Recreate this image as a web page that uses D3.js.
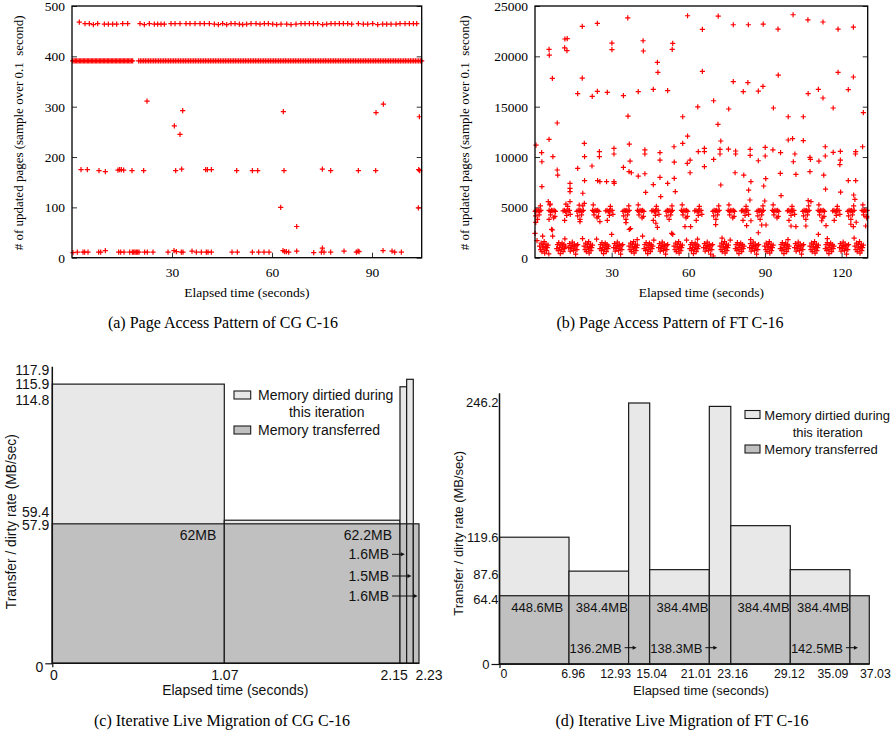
<!DOCTYPE html>
<html><head><meta charset="utf-8">
<script src="https://cdn.jsdelivr.net/npm/d3@7"></script>
<style>body{margin:0;background:#fff}svg{display:block}</style>
</head><body>
<svg id="chart" width="892" height="736"></svg>
<script>
// ---------------- (a) Page access pattern, CG C-16 ----------------
const cgTopLine = [[2.2,468],[3.9,465],[5.2,465],[6.4,463],[7.7,465],[9.7,464],[10.9,464],[12.2,464],[13.4,464],[15.2,465],[16.7,465],[20.4,465],[21.7,463],[23.2,465],[24.7,464],[25.7,464],[26.7,464],[27.7,464],[29.7,465],[30.9,465],[32.4,465],[34.2,465],[35.4,465],[36.9,465],[38.4,465],[39.7,465],[41.2,465],[42.7,464],[43.9,463],[45.2,465],[46.4,463],[47.7,465],[48.9,465],[50.2,464],[51.2,463],[52.4,464],[53.7,465],[55.2,465],[56.4,464],[57.7,465],[58.9,465],[60.2,464],[61.4,463],[62.7,464],[64.4,464],[65.7,463],[67.2,464],[68.7,465],[69.9,465],[71.2,465],[72.4,465],[73.7,465],[75.2,463],[76.4,464],[77.7,465],[78.9,465],[80.2,465],[81.4,465],[82.7,465],[83.9,464],[85.9,465],[87.4,464],[88.7,464],[90.2,465],[91.7,463],[93.2,464],[94.4,464],[95.7,464],[97.2,464],[98.4,465],[99.9,465],[101.2,465],[102.4,465],[103.4,465]];
const cgBandLevel = 391;
const cgBandTimes = [0.2,0.6,1.0,1.4,1.8,2.2,2.6,3.0,3.4,3.8,4.2,4.6,5.0,5.4,5.8,6.2,6.6,7.0,7.4,7.8,8.2,8.6,9.0,9.4,9.8,10.2,10.6,11.0,11.4,11.8,12.2,12.6,13.0,13.4,13.8,14.2,14.6,15.0,15.4,15.8,16.2,16.6,17.0,17.4,17.8,18.2,
20.0,20.5,21.0,21.5,22.0,22.5,23.0,23.5,24.0,24.5,25.0,25.5,26.0,26.5,27.0,27.5,28.0,28.5,29.0,29.5,30.0,30.5,31.0,31.5,32.0,32.5,33.0,33.5,34.0,34.5,35.0,35.5,36.0,36.5,37.0,37.5,38.0,38.5,39.0,39.5,40.0,40.5,41.0,41.5,42.0,42.5,43.0,43.5,44.0,44.5,45.0,45.5,46.0,46.5,47.0,47.5,48.0,48.5,49.0,49.5,50.0,50.5,51.0,51.5,52.0,52.5,53.0,53.5,54.0,54.5,55.0,55.5,56.0,56.5,57.0,57.5,58.0,58.5,59.0,59.5,60.0,60.5,61.0,61.5,62.0,62.5,63.0,63.5,64.0,64.5,65.0,65.5,66.0,66.5,67.0,67.5,68.0,68.5,69.0,69.5,70.0,70.5,71.0,71.5,72.0,72.5,73.0,73.5,74.0,74.5,75.0,75.5,76.0,76.5,77.0,77.5,78.0,78.5,79.0,79.5,80.0,80.5,81.0,81.5,82.0,82.5,83.0,83.5,84.0,84.5,85.0,85.5,86.0,86.5,87.0,87.5,88.0,88.5,89.0,89.5,90.0,90.5,91.0,91.5,92.0,92.5,93.0,93.5,94.0,94.5,95.0,95.5,96.0,96.5,97.0,97.5,98.0,98.5,99.0,99.5,100.0,100.5,101.0,101.5,102.0,102.5,103.0,103.5,104.0,104.5,104.9];
const cgMidLine = [[2.7,175],[4.6,175],[8.1,173],[10.0,171],[13.8,174],[14.3,175],[14.8,175],[15.5,174],[18.0,173],[21.5,173],[31.1,173],[32.9,176],[40.1,175],[40.6,175],[41.8,175],[49.4,173],[54.1,173],[55.7,173],[63.6,173],[75.1,176],[77.6,173],[85.9,173],[91.1,173],[104.0,175],[104.3,173]];
const cgLowLine = [[0.3,10],[1.6,11],[3.3,11],[3.8,11],[4.8,11],[8.0,11],[8.6,11],[10.0,14],[14.0,11],[14.6,11],[15.6,11],[17.3,11],[18.1,11],[18.5,11],[18.9,11],[19.3,11],[19.7,11],[20.1,11],[21.8,11],[22.6,11],[24.3,11],[28.8,11],[30.6,14],[31.3,12],[32.8,11],[33.3,11],[36.0,13],[37.3,11],[38.8,11],[40.3,11],[40.8,11],[41.8,11],[48.0,11],[49.6,11],[54.1,11],[56.0,11],[57.6,11],[59.1,11],[63.3,14],[63.8,12],[64.3,12],[65.0,11],[67.4,13],[72.5,10],[74.8,11],[75.1,19],[75.6,11],[77.6,11],[81.6,13],[85.3,11],[85.8,13],[86.1,12],[93.3,14],[96.0,13],[96.8,11],[98.8,11]];
const cgOutliers = [[22.5,311],[30.7,262],[32.4,245],[33.2,292],[63.4,290],[62.6,100],[67.4,62],[91.2,288],[93.4,305],[104.2,280],[103.9,99]];
const cgYTicks = [0,100,200,300,400,500];
const cgXTicks = [30,60,90];

// ---------------- (b) Page access pattern, FT C-16 ----------------
const ftHigh = [[5.5,20690],[5.6,20130],[11.7,21720],[12.6,21750],[11.6,20850],[12.5,20560],[18.5,22980],[24.4,23270],[36.3,23830],[59.7,24030],[30.1,21320],[30.1,20660],[42.3,21550],[42.4,20530],[47.9,19400],[48.1,18410],[53.9,21290],[53.7,20690],[6.8,17810],[18.5,17840],[16.7,16290],[22.4,16030],[24.4,16520],[28.3,16420],[34.6,16090],[40.4,16490],[46.3,16720],[51.9,16590],[36.4,14070],[57.8,14000],[63.7,14990],[8.7,13380],
[65.5,22680],[71.7,24000],[77.6,23140],[83.5,23140],[89.3,23200],[95.1,22710],[101.0,24130],[106.8,23630],[112.7,23410],[118.6,22710],[124.6,22910],[65.5,18510],[77.6,17480],[83.3,17380],[81.5,16490],[87.4,16550],[89.2,17020],[95.2,18140],[106.9,16290],[110.9,16720],[112.7,15860],[118.6,18410],[122.6,16690],[124.6,17950],[69.9,15590],[75.8,14770],[93.3,14870],[99.1,14000],[105.0,14000],[116.7,14870],[128.5,14400],[71.6,13250]];
const ftMid = [[0.4,11190],[2.6,10430],[2.7,9530],[2.7,7050],[5.5,11760],[7.0,10030],[8.7,8710],[8.9,8210],[13.7,7390],[13.7,6890],[13.7,6560],[13.7,5560],[16.7,8880],[19.3,11360],[19.4,10030],[19.4,7650],[18.7,6400],[19.3,5400],[22.3,9110],[25.2,10530],[25.2,10030],[24.5,7650],[25.4,7550],[28.0,7550],[30.9,10860],[30.9,10300],[30.9,7550],[31.0,7390],[34.6,8980],[36.9,11290],[37.2,9600],[36.8,8540],[37.7,8440],[40.4,8110],[43.0,10700],[43.0,10300],[43.0,8340],[43.3,6490],[46.3,7250],[48.9,10430],[48.9,9700],[48.9,7980],[49.2,6060],[51.9,7390],[54.4,11020],[54.5,9500],[54.5,7880],[54.9,6560],[57.8,11360],[59.7,12080],[59.6,9370],[60.7,9700],[60.7,8440],[63.9,10530],
[66.3,10860],[66.3,10530],[66.3,9040],[69.9,9770],[72.7,11590],[72.4,10760],[72.4,10300],[72.7,7220],[75.7,10790],[78.5,10600],[78.5,10300],[78.3,8440],[81.7,8210],[84.2,10760],[84.2,10170],[84.5,7550],[83.6,6720],[84.1,5730],[87.4,9630],[90.1,10960],[90.1,10100],[90.3,7850],[89.5,7120],[89.9,5630],[93.1,10700],[96.1,10430],[96.0,8380],[96.3,6160],[99.1,11690],[100.8,11820],[101.7,10300],[101.1,9530],[102.1,8280],[105.0,11620],[107.6,9970],[107.8,9770],[107.6,8540],[106.9,5660],[108.0,5560],[111.1,9600],[113.0,8210],[113.6,11020],[113.6,10100],[113.7,6820],[116.7,10470],[119.5,10560],[119.5,9700],[119.3,9240],[119.6,6520],[122.6,7650],[125.5,7650],[124.7,6230],[125.2,5800],[125.5,10530],[125.4,10300],[128.2,11020],[5.2,5560],[6.0,5330],[12.1,5330],[17.3,5230]];
const ftLowScatter = [[0.0,2420],[6.5,2820],[6.9,2150],[5.5,3810],[17.6,3580],[25.4,3580],[30.0,2320],[35.6,3480],[37.4,2880],[47.3,3420],[47.9,3020],[42.1,2150],[53.9,2320],[58.7,3080],[60.9,3080],[70.7,3280],[82.8,3180],[84.5,3670],[88.7,3250],[90.4,3250],[87.4,2480],[100.2,3150],[102.1,3080],[106.0,3150],[110.9,2320],[112.2,3670],[113.9,3180],[123.6,3320],[124.6,3080],[125.7,3520],[129.4,3150],[3.0,2150],[6.8,2750],[36.9,2820],[53.5,2420],[5.4,370],[69.8,170],[0.3,3500]];
const ftBand4600 = [
[0.1,4600],[0.4,4700],[0.8,4650],[1.3,4700],[1.8,4600],[2.3,4700],[0.3,4150],[1.6,4250],[2.1,5150],[1.0,3800],
[5.5,4700],[6.0,4600],[6.5,4700],[7.0,4650],[7.5,4700],[8.0,4600],[6.1,4250],[7.8,4100],[5.8,5250],[7.3,3950],
[11.0,4650],[11.5,4700],[12.0,4600],[12.5,4700],[13.0,4650],[13.5,4700],[12.4,4200],[13.8,4300],[12.8,5100],[11.6,3700],
[16.4,4600],[16.9,4700],[17.4,4650],[17.9,4700],[18.4,4600],[18.9,4700],[16.7,4150],[18.2,4250],[18.7,5150],[17.6,3800],
[22.5,4700],[23.0,4600],[23.5,4700],[24.0,4650],[24.5,4700],[25.0,4600],[23.1,4250],[24.8,4100],[22.8,5250],[24.3,3950],
[27.7,4650],[28.2,4700],[28.7,4600],[29.2,4700],[29.7,4650],[30.2,4700],[29.1,4200],[30.5,4300],[29.5,5100],[28.3,3700],
[34.4,4600],[34.9,4700],[35.4,4650],[35.9,4700],[36.4,4600],[36.9,4700],[34.7,4150],[36.2,4250],[36.7,5150],[35.6,3800],
[40.1,4700],[40.6,4600],[41.1,4700],[41.6,4650],[42.1,4700],[42.6,4600],[40.7,4250],[42.4,4100],[40.4,5250],[41.9,3950],
[45.7,4650],[46.2,4700],[46.7,4600],[47.2,4700],[47.7,4650],[48.2,4700],[47.1,4200],[48.5,4300],[47.5,5100],[46.3,3700],
[51.3,4600],[51.8,4700],[52.3,4650],[52.8,4700],[53.3,4600],[53.8,4700],[51.6,4150],[53.1,4250],[53.6,5150],[52.5,3800],
[57.3,4700],[57.8,4600],[58.3,4700],[58.8,4650],[59.3,4700],[59.8,4600],[57.9,4250],[59.6,4100],[57.6,5250],[59.1,3950],
[62.5,4650],[63.0,4700],[63.5,4600],[64.0,4700],[64.5,4650],[65.0,4700],[63.9,4200],[65.3,4300],[64.3,5100],[63.1,3700],
[69.6,4600],[70.1,4700],[70.6,4650],[71.1,4700],[71.6,4600],[72.1,4700],[69.9,4150],[71.4,4250],[71.9,5150],[70.8,3800],
[75.6,4700],[76.1,4600],[76.6,4700],[77.1,4650],[77.6,4700],[78.1,4600],[76.2,4250],[77.9,4100],[75.9,5250],[77.4,3950],
[80.8,4650],[81.3,4700],[81.8,4600],[82.3,4700],[82.8,4650],[83.3,4700],[82.2,4200],[83.6,4300],[82.6,5100],[81.4,3700],
[86.9,4600],[87.4,4700],[87.9,4650],[88.4,4700],[88.9,4600],[89.4,4700],[87.2,4150],[88.7,4250],[89.2,5150],[88.1,3800],
[92.9,4700],[93.4,4600],[93.9,4700],[94.4,4650],[94.9,4700],[95.4,4600],[93.5,4250],[95.2,4100],[93.2,5250],[94.7,3950],
[98.8,4650],[99.3,4700],[99.8,4600],[100.3,4700],[100.8,4650],[101.3,4700],[100.2,4200],[101.6,4300],[100.6,5100],[99.4,3700],
[104.8,4600],[105.3,4700],[105.8,4650],[106.3,4700],[106.8,4600],[107.3,4700],[105.1,4150],[106.6,4250],[107.1,5150],[106.0,3800],
[110.8,4700],[111.3,4600],[111.8,4700],[112.3,4650],[112.8,4700],[113.3,4600],[111.4,4250],[113.1,4100],[111.1,5250],[112.6,3950],
[116.5,4650],[117.0,4700],[117.5,4600],[118.0,4700],[118.5,4650],[119.0,4700],[117.9,4200],[119.3,4300],[118.3,5100],[117.1,3700],
[122.4,4600],[122.9,4700],[123.4,4650],[123.9,4700],[124.4,4600],[124.9,4700],[122.7,4150],[124.2,4250],[124.7,5150],[123.6,3800],
[128.0,4700],[128.5,4600],[129.0,4700],[129.5,4650],[130.0,4700],[128.6,4250],[129.8,4100],[128.3,5250],[129.8,3950]];
const ftBand1000 = [
[1.8,1150],[2.2,800],[2.4,1450],[2.7,600],[3.0,1050],[3.2,1300],[3.5,850],[3.6,1600],[3.8,450],[4.0,1100],[4.3,1350],[4.5,700],[4.8,1000],[5.1,1250],
[8.5,900],[8.8,1300],[9.1,700],[9.3,1500],[9.6,1000],[9.9,400],[10.1,1250],[10.3,800],[10.6,1450],[10.8,1050],[11.0,600],[11.3,1300],[11.6,900],[11.9,1150],
[13.2,1000],[13.5,1400],[13.8,650],[14.1,1200],[14.4,900],[14.6,1550],[14.9,1100],[15.1,700],[15.4,1350],[15.6,950],[15.9,350],[16.1,1200],[16.4,800],[16.7,1300],
[19.2,1150],[19.6,800],[19.8,1450],[20.1,600],[20.4,1050],[20.6,1300],[20.9,850],[21.0,1600],[21.2,450],[21.4,1100],[21.7,1350],[21.9,700],[22.2,1000],[22.5,1250],
[25.4,900],[25.7,1300],[26.0,700],[26.2,1500],[26.5,1000],[26.8,400],[27.0,1250],[27.2,800],[27.5,1450],[27.7,1050],[27.9,600],[28.2,1300],[28.5,900],[28.8,1150],
[30.8,1000],[31.1,1400],[31.4,650],[31.7,1200],[32.0,900],[32.2,1550],[32.5,1100],[32.7,700],[33.0,1350],[33.2,950],[33.5,350],[33.7,1200],[34.0,800],[34.3,1300],
[36.8,1150],[37.2,800],[37.4,1450],[37.7,600],[38.0,1050],[38.2,1300],[38.5,850],[38.6,1600],[38.8,450],[39.0,1100],[39.3,1350],[39.5,700],[39.8,1000],[40.1,1250],
[42.7,900],[43.0,1300],[43.3,700],[43.5,1500],[43.8,1000],[44.1,400],[44.3,1250],[44.5,800],[44.8,1450],[45.0,1050],[45.2,600],[45.5,1300],[45.8,900],[46.1,1150],
[48.4,1000],[48.7,1400],[49.0,650],[49.3,1200],[49.6,900],[49.8,1550],[50.1,1100],[50.3,700],[50.6,1350],[50.8,950],[51.1,350],[51.3,1200],[51.6,800],[51.9,1300],
[54.4,1150],[54.8,800],[55.0,1450],[55.3,600],[55.6,1050],[55.8,1300],[56.1,850],[56.2,1600],[56.4,450],[56.6,1100],[56.9,1350],[57.1,700],[57.4,1000],[57.7,1250],
[60.6,900],[60.9,1300],[61.2,700],[61.4,1500],[61.7,1000],[62.0,400],[62.2,1250],[62.4,800],[62.7,1450],[62.9,1050],[63.1,600],[63.4,1300],[63.7,900],[64.0,1150],
[66.0,1000],[66.3,1400],[66.6,650],[66.9,1200],[67.2,900],[67.4,1550],[67.7,1100],[67.9,700],[68.2,1350],[68.4,950],[68.7,350],[68.9,1200],[69.2,800],[69.5,1300],
[72.4,1150],[72.8,800],[73.0,1450],[73.3,600],[73.6,1050],[73.8,1300],[74.1,850],[74.2,1600],[74.4,450],[74.6,1100],[74.9,1350],[75.1,700],[75.4,1000],[75.7,1250],
[78.4,900],[78.7,1300],[79.0,700],[79.2,1500],[79.5,1000],[79.8,400],[80.0,1250],[80.2,800],[80.5,1450],[80.7,1050],[80.9,600],[81.2,1300],[81.5,900],[81.8,1150],
[84.0,1000],[84.3,1400],[84.6,650],[84.9,1200],[85.2,900],[85.4,1550],[85.7,1100],[85.9,700],[86.2,1350],[86.4,950],[86.7,350],[86.9,1200],[87.2,800],[87.5,1300],
[89.9,1150],[90.3,800],[90.5,1450],[90.8,600],[91.1,1050],[91.3,1300],[91.6,850],[91.7,1600],[91.9,450],[92.1,1100],[92.4,1350],[92.6,700],[92.9,1000],[93.2,1250],
[96.0,900],[96.3,1300],[96.6,700],[96.8,1500],[97.1,1000],[97.4,400],[97.6,1250],[97.8,800],[98.1,1450],[98.3,1050],[98.5,600],[98.8,1300],[99.1,900],[99.4,1150],
[101.6,1000],[101.9,1400],[102.2,650],[102.5,1200],[102.8,900],[103.0,1550],[103.3,1100],[103.5,700],[103.8,1350],[104.0,950],[104.3,350],[104.5,1200],[104.8,800],[105.1,1300],
[107.6,1150],[108.0,800],[108.2,1450],[108.5,600],[108.8,1050],[109.0,1300],[109.3,850],[109.4,1600],[109.6,450],[109.8,1100],[110.1,1350],[110.3,700],[110.6,1000],[110.9,1250],
[113.6,900],[113.9,1300],[114.2,700],[114.4,1500],[114.7,1000],[115.0,400],[115.2,1250],[115.4,800],[115.7,1450],[115.9,1050],[116.1,600],[116.4,1300],[116.7,900],[117.0,1150],
[119.2,1000],[119.5,1400],[119.8,650],[120.1,1200],[120.4,900],[120.6,1550],[120.9,1100],[121.1,700],[121.4,1350],[121.6,950],[121.9,350],[122.1,1200],[122.4,800],[122.7,1300],
[125.2,1150],[125.6,800],[125.8,1450],[126.1,600],[126.4,1050],[126.6,1300],[126.9,850],[127.0,1600],[127.2,450],[127.4,1100],[127.7,1350],[127.9,700],[128.2,1000],[128.5,1250],
[11.7,1860],[18.6,1890],[24.1,1850],[40.0,1800],[59.3,1750],[63.6,1850],[73.2,1950],[76.4,1750],[84.4,1800],[99.0,1800],[114.4,1900],[124.9,1950],[0.8,1700],[46.5,1750]];
const ftYTicks = [0,5000,10000,15000,20000,25000];
const ftXTicks = [30,60,90,120];

// ---------------- (c) Iterative live migration, CG C-16 ----------------
const cgIterStart = [0, 1.07, 2.15, 2.178, 2.206];
const cgIterEnd   = [1.07, 2.15, 2.178, 2.206, 2.23];
const cgDirtyRate = [115.9, 59.4, 114.8, 117.9, null];
const cgTransferRate = [57.9, 57.9, 57.9, 57.9, 57.9];
const cgTransferLabels = ["62MB", "62.2MB", "1.6MB", "1.5MB", "1.6MB"];
const cgRateTicks = [0, 57.9, 59.4, 114.8, 115.9, 117.9];
const cgTimeTicks = [0, 1.07, 2.15, 2.23];

// ---------------- (d) Iterative live migration, FT C-16 ----------------
const ftIterStart = [0, 6.96, 12.93, 15.04, 21.01, 23.16, 29.12, 35.09];
const ftIterEnd   = [6.96, 12.93, 15.04, 21.01, 23.16, 29.12, 35.09, 37.03];
const ftDirtyRate = [119.6, 87.6, 246.2, 89, 243, 130.5, 89, null];
const ftTransferRate = [64.4, 64.4, 64.4, 64.4, 64.4, 64.4, 64.4, 64.4];
const ftTransferLabels = ["448.6MB", "384.4MB", "136.2MB", "384.4MB", "138.3MB", "384.4MB", "384.4MB", "142.5MB"];
const ftRateTicks = [0, 64.4, 87.6, 119.6, 246.2];
const ftTimeTicks = [0, 6.96, 12.93, 15.04, 21.01, 23.16, 29.12, 35.09, 37.03];

const legendLabels = ["Memory dirtied during", "this iteration", "Memory transferred"];

// ===================================================================
const svg = d3.select("#chart");
const SERIF = "'Liberation Serif','Times New Roman',serif";
const SANS = "'Liberation Sans',Arial,sans-serif";
const plus = "M-2.6,0H2.6M0,-2.6V2.6";

function scatterPanel(o) {
  const g = svg.append("g");
  const x = d3.scaleLinear().domain(o.xDomain).range([o.left, o.right]);
  const y = d3.scaleLinear().domain(o.yDomain).range([o.bottom, o.top]);
  const style = s => { s.select(".domain").remove(); s.attr("font-family", SERIF).attr("font-size", 13.5);
    s.selectAll("text").attr("fill", "#000"); s.selectAll("line").attr("stroke", "#333"); };
  g.append("g").attr("transform", `translate(${o.left},0)`)
    .call(d3.axisLeft(y).tickValues(o.yTicks).tickSize(-5).tickPadding(7).tickFormat(d3.format("d"))).call(style);
  g.append("g").attr("transform", `translate(${o.right},0)`)
    .call(d3.axisRight(y).tickValues(o.yTicks).tickSize(-5).tickFormat("")).call(style);
  g.append("g").attr("transform", `translate(0,${o.bottom})`)
    .call(d3.axisBottom(x).tickValues(o.xTicks).tickSize(-5).tickPadding(10).tickFormat(d3.format("d"))).call(style);

  const pts = g.append("g").attr("stroke", "#ff0000").attr("stroke-width", 1.2).attr("fill", "none");
  o.series.forEach(s => {
    pts.append("g").selectAll("path").data(s).join("path")
      .attr("d", plus)
      .attr("transform", d => `translate(${x(d[0]).toFixed(2)},${y(d[1]).toFixed(2)})`);
  });
  g.append("rect").attr("x", o.left).attr("y", o.top).attr("width", o.right - o.left).attr("height", o.bottom - o.top)
    .attr("fill", "none").attr("stroke", "#000").attr("stroke-width", 1.3);

  g.append("text").attr("transform", `translate(${o.yLabelX},${(o.top + o.bottom) / 2 + 1}) rotate(-90)`)
    .attr("text-anchor", "middle").attr("dy", "0.35em").attr("font-family", SERIF).attr("font-size", 13)
    .style("white-space", "pre").text("# of updated pages (sample over 0.1  second)");
  g.append("text").attr("x", (o.left + o.right) / 2).attr("y", 296.5).attr("text-anchor", "middle")
    .attr("font-family", SERIF).attr("font-size", 13.5).text("Elapsed time (seconds)");
  g.append("text").attr("x", o.captionX).attr("y", 327.5).attr("text-anchor", "middle")
    .attr("font-family", SERIF).attr("font-size", 16).text(o.caption);
}

scatterPanel({
  left: 72, right: 421.7, top: 6, bottom: 257.7,
  xDomain: [0, 104.9], yDomain: [0, 500], yTicks: cgYTicks, xTicks: cgXTicks,
  series: [cgTopLine, cgBandTimes.map(t => [t, cgBandLevel]), cgMidLine, cgLowLine, cgOutliers],
  yLabelX: 18.5, captionX: 223, caption: "(a) Page Access Pattern of CG C-16"
});
scatterPanel({
  left: 535, right: 867.7, top: 6, bottom: 257.7,
  xDomain: [0, 130.2], yDomain: [0, 25000], yTicks: ftYTicks, xTicks: ftXTicks,
  series: [ftBand1000, ftBand4600, ftLowScatter, ftMid, ftHigh],
  yLabelX: 464.5, captionX: 670, caption: "(b) Page Access Pattern of FT C-16"
});

function migrationPanel(o) {
  const g = svg.append("g").attr("font-family", SANS).attr("fill", "#111");
  const x = o.x, y = o.y;
  const iters = o.start.map((s, i) => ({ s, e: o.end[i], dirty: o.dirty[i], tr: o.trans[i], lab: o.labels[i], i }));
  const LIGHT = "#e8e8e8", DARK = "#c0c0c0", EDGE = "#1a1a1a";

  g.append("g").selectAll("rect").data(iters.filter(d => d.dirty != null)).join("rect")
    .attr("x", d => x(d.s)).attr("width", d => x(d.e) - x(d.s))
    .attr("y", d => y(d.dirty)).attr("height", d => y(0) - y(d.dirty))
    .attr("fill", LIGHT).attr("stroke", EDGE).attr("stroke-width", 1.2);
  g.append("g").selectAll("rect").data(iters).join("rect")
    .attr("x", d => x(d.s)).attr("width", d => x(d.e) - x(d.s))
    .attr("y", d => y(d.tr)).attr("height", d => y(0) - y(d.tr))
    .attr("fill", DARK).attr("stroke", EDGE).attr("stroke-width", 1.2);

  // transferred-size labels
  iters.forEach(d => {
    const w = x(d.e) - x(d.s);
    if (w > 25) {
      g.append("text").attr("font-size", o.fs)
        .attr("x", o.inside === "right" ? x(d.e) - 8 : (x(d.s) + x(d.e)) / 2 + 3)
        .attr("y", o.insideY).attr("text-anchor", o.inside === "right" ? "end" : "middle").text(d.lab);
    } else {
      const k = o.arrowRows.length > 1 ? d.i - o.arrowStart : 0;
      const cy = o.arrowRows[k];
      const right = o.arrowRight != null ? o.arrowRight : x(d.s) - 7;
      const tip = o.arrowRight != null ? x((d.s + d.e) / 2) + 1.5 : x(d.s) + 8;
      g.append("text").attr("font-size", o.fs).attr("x", right).attr("y", cy + 5)
        .attr("text-anchor", "end").text(d.lab);
      g.append("line").attr("x1", right + 3).attr("x2", tip - 3).attr("y1", cy).attr("y2", cy)
        .attr("stroke", "#111").attr("stroke-width", 1);
      g.append("path").attr("d", `M${tip},${cy}L${tip - 4},${cy - 2}L${tip - 4},${cy + 2}Z`).attr("fill", "#111");
    }
  });

  // axes
  const ya = g.append("g").attr("transform", `translate(${x(0)},0)`)
    .call(d3.axisLeft(y).tickValues(o.yTicks).tickSize(0).tickPadding(o.yPad).tickFormat(d => d === 0 ? "0" : d3.format(".1f")(d)));
  ya.select(".domain").remove();
  ya.attr("font-family", SANS).attr("font-size", o.fs);
  ya.selectAll(".tick text").attr("fill", "#111").attr("y", (d, i) => o.yNudge[i]).attr("dy", "0.36em");
  ya.selectAll(".tick").filter(d => d === 0).call(t => {
    t.select("line").attr("x2", -o.zeroTick).attr("stroke", "#111").attr("stroke-width", 1.2);
    t.select("text").attr("x", -o.zeroTick - 2);
  });
  const xa = g.append("g").attr("transform", `translate(0,${y(0)})`)
    .call(d3.axisBottom(x).tickValues(o.xTicks).tickSize(0).tickPadding(o.xPad).tickFormat(d => d === 0 ? "0" : d3.format(".2f")(d)));
  xa.select(".domain").remove();
  xa.attr("font-family", SANS).attr("font-size", o.xfs);
  xa.selectAll(".tick text").attr("fill", "#111").attr("x", (d, i) => o.xNudge[i]);
  xa.selectAll(".tick").filter(d => d === 0).select("line").attr("y2", 4).attr("stroke", "#111").attr("stroke-width", 1.2);

  g.append("line").attr("x1", x(0)).attr("x2", x(0)).attr("y1", o.axisTop).attr("y2", y(0))
    .attr("stroke", "#111").attr("stroke-width", 1.5);
  g.append("line").attr("x1", x(0)).attr("x2", x(o.xTicks[o.xTicks.length - 1])).attr("y1", y(0)).attr("y2", y(0))
    .attr("stroke", "#111").attr("stroke-width", 1.5);

  // legend
  const L = o.legend;
  g.append("rect").attr("x", L.x).attr("y", L.y1).attr("width", L.w).attr("height", 8)
    .attr("fill", LIGHT).attr("stroke", EDGE).attr("stroke-width", 1.1);
  g.append("rect").attr("x", L.x).attr("y", L.y2).attr("width", L.w).attr("height", 8)
    .attr("fill", DARK).attr("stroke", EDGE).attr("stroke-width", 1.1);
  g.append("text").attr("x", L.tx).attr("y", L.y1 + 9).attr("font-size", o.fs).text(legendLabels[0]);
  g.append("text").attr("x", L.cx).attr("y", L.y1 + 9 + L.gap).attr("font-size", o.fs).attr("text-anchor", "middle").text(legendLabels[1]);
  g.append("text").attr("x", L.tx).attr("y", L.y2 + 9).attr("font-size", o.fs).text(legendLabels[2]);

  // axis titles and caption
  g.append("text").attr("transform", `translate(${o.yTitleX},${o.yTitleY}) rotate(-90)`)
    .attr("text-anchor", "middle").attr("dy", "0.35em").attr("font-size", o.yTitleFs).text("Transfer / dirty rate (MB/sec)");
  g.append("text").attr("x", o.xTitleX).attr("y", 695).attr("text-anchor", "middle").attr("font-size", o.fs)
    .text("Elapsed time (seconds)");
  g.append("text").attr("x", o.captionX).attr("y", 725.5).attr("text-anchor", "middle")
    .attr("font-family", SERIF).attr("font-size", 16).attr("fill", "#000").text(o.caption);
}

migrationPanel({
  x: d3.scaleLinear().domain([0, 1.07, 2.15, 2.23]).range([52.3, 224.3, 400, 419]),
  y: d3.scaleLinear().domain([0, 117.9]).range([663.3, 379.3]),
  start: cgIterStart, end: cgIterEnd, dirty: cgDirtyRate, trans: cgTransferRate, labels: cgTransferLabels,
  yTicks: cgRateTicks, xTicks: cgTimeTicks, fs: 14, xfs: 14,
  yPad: 3, xPad: 6.5, zeroTick: 7, axisTop: 366.7,
  yNudge: [3.4, 1, -8.5, 12.5, -1, -10], xNudge: [1.2, 0, -6.3, 9.5],
  inside: "right", insideY: 540, arrowRows: [554.3, 576, 596], arrowStart: 2, arrowRight: 389,
  legend: { x: 234, w: 16.7, y1: 391, y2: 426, tx: 258, cx: 326.7, gap: 17 },
  yTitleX: 11, yTitleY: 521.7, yTitleFs: 13.8, xTitleX: 235.3, captionX: 222,
  caption: "(c) Iterative Live Migration of CG C-16"
});
migrationPanel({
  x: d3.scaleLinear().domain([0, 37.03]).range([499.5, 869.3]),
  y: d3.scaleLinear().domain([0, 246.2]).range([664, 403]),
  start: ftIterStart, end: ftIterEnd, dirty: ftDirtyRate, trans: ftTransferRate, labels: ftTransferLabels,
  yTicks: ftRateTicks, xTicks: ftTimeTicks, fs: 13, xfs: 12.3,
  yPad: 1, xPad: 5, zeroTick: 8, axisTop: 393.3,
  yNudge: [0, 2.6, 2.2, -0.5, -0.7], xNudge: [3.8, 3.7, -13.5, 1.5, -13.6, 1.4, -1.4, -17.5, 5.6],
  inside: "center", insideY: 612, arrowRows: [647.7], arrowStart: 0, arrowRight: null,
  legend: { x: 745, w: 15, y1: 410.5, y2: 445, tx: 764.3, cx: 827.7, gap: 17 },
  yTitleX: 458.3, yTitleY: 533.3, yTitleFs: 13, xTitleX: 701, captionX: 682,
  caption: "(d) Iterative Live Migration of FT C-16"
});
</script>
</body></html>
